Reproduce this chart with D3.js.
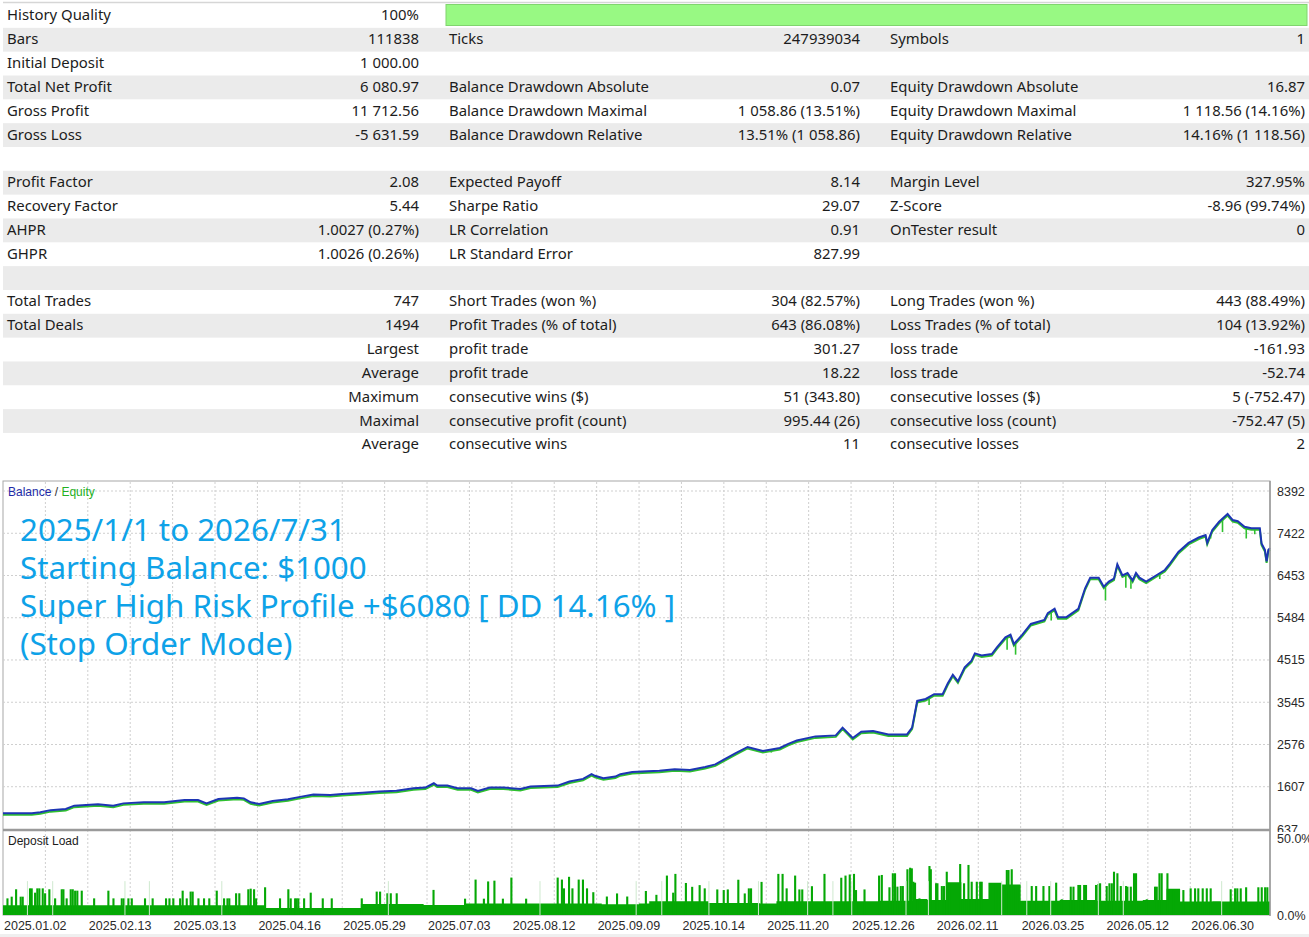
<!DOCTYPE html>
<html>
<head>
<meta charset="utf-8">
<script src="https://cdn.jsdelivr.net/npm/d3@7"></script>
<style>
  body { margin: 0; background: #ffffff; }
  svg { display: block; }
</style>
</head>
<body>
<div id="chart"></div>
<script>
// Page size
const width = 1309, height = 937;

// ---------- report table ----------
const col1Labels = ["History Quality", "Bars", "Initial Deposit", "Total Net Profit", "Gross Profit", "Gross Loss", "",
  "Profit Factor", "Recovery Factor", "AHPR", "GHPR", "",
  "Total Trades", "Total Deals", "", "", "", "", ""];
const col1Values = ["100%", "111838", "1 000.00", "6 080.97", "11 712.56", "-5 631.59", "",
  "2.08", "5.44", "1.0027 (0.27%)", "1.0026 (0.26%)", "",
  "747", "1494", "Largest", "Average", "Maximum", "Maximal", "Average"];
const col2Labels = ["", "Ticks", "", "Balance Drawdown Absolute", "Balance Drawdown Maximal", "Balance Drawdown Relative", "",
  "Expected Payoff", "Sharpe Ratio", "LR Correlation", "LR Standard Error", "",
  "Short Trades (won %)", "Profit Trades (% of total)", "profit trade", "profit trade",
  "consecutive wins ($)", "consecutive profit (count)", "consecutive wins"];
const col2Values = ["", "247939034", "", "0.07", "1 058.86 (13.51%)", "13.51% (1 058.86)", "",
  "8.14", "29.07", "0.91", "827.99", "",
  "304 (82.57%)", "643 (86.08%)", "301.27", "18.22", "51 (343.80)", "995.44 (26)", "11"];
const col3Labels = ["", "Symbols", "", "Equity Drawdown Absolute", "Equity Drawdown Maximal", "Equity Drawdown Relative", "",
  "Margin Level", "Z-Score", "OnTester result", "", "",
  "Long Trades (won %)", "Loss Trades (% of total)", "loss trade", "loss trade",
  "consecutive losses ($)", "consecutive loss (count)", "consecutive losses"];
const col3Values = ["", "1", "", "16.87", "1 118.56 (14.16%)", "14.16% (1 118.56)", "",
  "327.95%", "-8.96 (99.74%)", "0", "", "",
  "443 (88.49%)", "104 (13.92%)", "-161.93", "-52.74", "5 (-752.47)", "-752.47 (5)", "2"];
const historyQuality = 100;

// ---------- balance / equity graph (x = trade number) ----------
const totalTrades = 747;
const balance = [
  [0, 1000], [17, 1000], [22, 1020], [28, 1070], [37, 1095], [42, 1172], [49, 1190], [56, 1205],
  [65, 1172], [71, 1225], [83, 1250], [95, 1250], [107, 1300], [115, 1300], [120, 1225], [127, 1325],
  [138, 1355], [142, 1340], [146, 1250], [151, 1210], [159, 1280], [168, 1318], [176, 1380], [183, 1430],
  [193, 1415], [200, 1440], [212, 1470], [222, 1495], [232, 1517], [242, 1572], [249, 1587], [254, 1686],
  [256, 1633], [262, 1633], [268, 1572], [276, 1572], [280, 1510], [287, 1587], [295, 1587], [305, 1557],
  [311, 1610], [327, 1633], [334, 1725], [342, 1786], [347, 1895], [349, 1858], [354, 1802], [361, 1840],
  [364, 1895], [371, 1943], [380, 1960], [387, 1975], [396, 2010], [405, 1990], [414, 2060], [420, 2120],
  [425, 2230], [432, 2380], [439, 2519], [448, 2428], [458, 2497], [463, 2590], [468, 2668], [479, 2762], [491, 2785], [495, 2962],
  [501, 2726], [506, 2870], [513, 2885], [522, 2808], [533, 2808], [536, 2962], [539, 3575], [544, 3620],
  [549, 3730], [554, 3730], [557, 3976], [560, 4176], [563, 4022], [567, 4345], [571, 4499], [573, 4666],
  [577, 4620], [583, 4650], [586, 4804], [591, 5036], [594, 5098], [596, 4882], [601, 5098], [606, 5341],
  [614, 5433], [616, 5589], [620, 5690], [622, 5497], [627, 5497], [634, 5690], [638, 6160], [641, 6403],
  [646, 6403], [649, 6197], [652, 6312], [655, 6380], [657, 6710], [660, 6456], [663, 6510], [666, 6341],
  [668, 6510], [670, 6403], [674, 6312], [681, 6482], [685, 6580], [688, 6726], [693, 6995], [699, 7201],
  [705, 7325], [709, 7383], [710, 7201], [713, 7497], [717, 7685], [722, 7864], [725, 7726], [728, 7700],
  [732, 7571], [736, 7540], [741, 7540], [742, 7188], [744, 7040], [745, 6779], [746, 7040], [747, 7081]
];
// equity lows (floating drawdowns) [trade, equity]
const equityDips = [
  [149, 1195], [263, 1600], [453, 2390], [546, 3483], [592, 4750], [597, 4637], [618, 5420],
  [650, 5880], [662, 6174], [665, 6150], [682, 6373], [712, 7302], [719, 7450], [733, 7302], [738, 7400]
];
const yTicks = [637, 1607, 2576, 3545, 4515, 5484, 6453, 7422, 8392];
const dateLabels = ["2025.01.02", "2025.02.13", "2025.03.13", "2025.04.16", "2025.05.29", "2025.07.03",
  "2025.08.12", "2025.09.09", "2025.10.14", "2025.11.20", "2025.12.26", "2026.02.11", "2026.03.25",
  "2026.05.12", "2026.06.30"];

// ---------- deposit load (%) ----------
const loadBase = [
  [0, 6.4], [155, 4.6], [211, 7.1], [248, 6.5], [272, 7.5], [353, 7.0], [375, 7.5], [381, 8.9],
  [416, 7.8], [446, 7.4], [456, 8.9], [517, 9.3], [537, 10.4], [545, 9.7], [556, 21.3], [565, 10.4],
  [581, 21.0], [589, 19.8], [600, 9.3], [623, 9.7], [645, 9.3], [672, 9.7], [686, 17.0], [694, 8.7],
  [713, 9.0], [718, 8.7], [747, 8.7]
];
const loadSpikes = [
  [2.6, 10.8], [5.1, 11.9], [7.7, 16.7], [10.4, 11.9], [11.6, 11.9], [15.9, 17.3], [16.9, 17.3], [18.9, 14.5],
  [20.2, 17.3], [21.4, 17.3], [23.4, 17.3], [24.8, 14.1], [27.3, 16.7], [30.7, 10.8], [34.6, 16.7], [35.6, 16.7],
  [37.5, 10.8], [39.9, 16.7], [41.1, 16.7], [42.5, 15.8], [43.8, 15.8], [46.4, 15.8], [53.7, 10.8], [62.1, 15.8],
  [65.1, 10.8], [70.0, 10.8], [71.3, 10.8], [73.9, 10.8], [75.9, 10.8], [83.7, 10.8], [88.2, 10.8], [96.1, 10.8],
  [98.1, 10.8], [100.4, 10.8], [104.4, 10.8], [105.9, 15.8], [108.3, 10.8], [110.6, 15.2], [111.8, 15.2],
  [115.2, 10.8], [118.5, 10.8], [121.6, 10.8], [126.0, 15.8], [130.3, 10.8], [132.3, 10.8], [133.4, 10.8],
  [137.4, 14.1], [139.3, 14.1], [144.6, 16.7], [146.0, 17.1], [148.0, 16.7], [149.2, 10.8], [154.5, 18.0],
  [163.3, 10.8], [168.2, 16.7], [169.6, 10.8], [172.2, 10.8], [173.1, 10.8], [174.1, 10.8], [177.5, 10.8],
  [181.4, 14.5], [188.5, 10.8], [193.8, 10.8], [211.5, 10.8], [220.3, 15.2], [222.3, 15.2], [226.6, 14.1],
  [228.6, 14.1], [232.1, 14.1], [253.8, 16.3], [272.4, 10.6], [278.6, 23.0], [283.5, 10.6], [286.0, 21.8],
  [289.7, 22.3], [294.7, 10.6], [299.7, 24.3], [308.4, 10.6], [327.0, 24.3], [329.5, 23.0], [330.7, 17.3],
  [333.7, 24.8], [335.7, 17.3], [339.4, 23.0], [341.9, 23.0], [344.3, 17.3], [348.0, 14.8], [356.0, 12.0],
  [362.0, 14.0], [368.0, 12.0], [379.0, 15.6], [385.2, 13.1], [391.4, 25.6], [395.1, 14.5], [396.4, 26.7],
  [402.6, 20.8], [406.3, 18.3], [410.7, 19.4], [413.7, 17.3], [421.1, 16.6], [424.9, 16.2], [427.3, 16.6],
  [433.5, 22.9], [437.3, 14.0], [439.7, 17.3], [441.0, 17.3], [447.2, 21.5], [457.1, 26.7], [459.6, 26.7],
  [462.0, 17.3], [467.0, 25.6], [469.5, 16.6], [471.2, 16.6], [476.9, 18.7], [484.3, 26.7], [494.2, 24.2],
  [496.7, 25.6], [499.2, 26.3], [501.7, 26.7], [502.9, 16.2], [507.9, 16.6], [516.5, 25.6],
  [518.1, 26.0], [522.6, 18.0], [524.6, 27.1], [525.9, 27.1], [527.3, 18.4], [529.3, 18.8], [530.5, 18.8],
  [533.2, 29.7], [534.8, 30.7], [535.8, 30.3], [536.7, 21.6], [537.7, 21.0], [540.3, 10.8], [546.2, 31.8],
  [547.0, 29.7], [550.1, 20.6], [550.9, 20.6], [553.5, 18.8], [554.8, 18.8], [556.4, 28.1], [558.0, 20.6],
  [564.3, 33.1], [566.6, 20.6], [569.2, 32.5], [571.1, 21.6], [574.1, 21.6], [576.1, 21.6], [577.0, 21.6],
  [584.9, 20.6], [586.9, 20.6], [591.8, 29.2], [592.8, 29.2], [594.7, 29.7], [595.7, 18.4], [598.1, 18.4],
  [606.5, 18.8], [609.1, 18.8], [613.4, 18.8], [616.9, 18.8], [620.9, 21.0], [624.2, 10.2], [629.5, 18.4],
  [631.1, 18.4], [634.0, 19.5], [635.0, 19.5], [637.4, 19.5], [638.5, 19.5], [644.4, 19.5], [645.8, 20.1],
  [646.8, 20.6], [650.7, 18.8], [652.3, 20.6], [653.7, 20.6], [655.0, 28.1], [657.0, 27.1], [659.0, 18.8],
  [662.1, 18.8], [662.9, 18.4], [664.9, 18.4], [666.8, 27.1], [668.0, 27.1], [674.3, 10.2], [679.2, 18.4],
  [680.2, 18.4], [681.8, 27.1], [683.1, 27.1], [686.5, 27.1], [690.0, 16.2], [695.9, 16.2], [700.2, 17.3],
  [702.8, 17.3], [704.7, 17.3], [707.3, 17.3], [709.7, 17.3], [712.0, 17.3], [723.8, 16.7], [726.4, 17.3],
  [727.7, 17.3], [729.7, 17.3], [732.9, 18.0], [740.1, 18.0], [742.1, 18.0], [744.1, 18.0], [745.4, 18.0]
];
// moments with no open position (white gaps)
const zeroLoad = [14.4, 29.3, 71.9, 86.3, 129, 227.2, 316.6, 373.3, 388.4, 416.2, 445.4, 474.4, 489.3,
  500.4, 532.4, 545.6, 588.8, 603.6, 617.7, 645.8, 660.5, 718.5];

// ---------- overlay caption ----------
const captionLines = ["2025/1/1 to 2026/7/31", "Starting Balance: $1000",
  "Super High Risk Profile +$6080 [ DD 14.16% ]", "(Stop Order Mode)"];

// #############################
const svg = d3.select("#chart").append("svg")
  .attr("width", width)
  .attr("height", height);

const tableFont = "'Noto Sans', 'Open Sans', sans-serif";
const axisFont = "'Liberation Sans', Arial, sans-serif";

// table
const rowH = 23.83, tableTop = 4;
const rowIdx = d3.range(col1Labels.length);
const rowY = i => tableTop + i * rowH;

svg.append("line")
  .attr("x1", 3).attr("x2", width).attr("y1", 2.5).attr("y2", 2.5)
  .attr("stroke", "#d6d6d6").attr("stroke-width", 1.5);

svg.selectAll("rect.rowbg").data(rowIdx.filter(i => i % 2 === 1)).enter()
  .append("rect").attr("class", "rowbg")
  .attr("x", 3).attr("y", i => rowY(i))
  .attr("width", width - 3).attr("height", rowH)
  .attr("fill", "#ebebeb");

const qScale = d3.scaleLinear().domain([0, 100]).range([0, 861]);
svg.append("rect")
  .attr("x", 446).attr("y", 4.5)
  .attr("width", qScale(historyQuality)).attr("height", 21)
  .attr("fill", "#98f983").attr("stroke", "#80d46e").attr("stroke-width", 1);

function tableCol(arr, x, anchor) {
  svg.append("g").selectAll("text").data(arr).enter()
    .append("text")
    .attr("x", x)
    .attr("y", (d, i) => rowY(i) + rowH / 2 + 4.5)
    .attr("text-anchor", anchor)
    .attr("font-family", tableFont)
    .attr("font-size", 14.9)
    .attr("fill", "#1c1c1c")
    .text(d => d);
}
tableCol(col1Labels, 7, "start");
tableCol(col1Values, 419, "end");
tableCol(col2Labels, 449, "start");
tableCol(col2Values, 860, "end");
tableCol(col3Labels, 890, "start");
tableCol(col3Values, 1305, "end");

// chart scales
const x = d3.scaleLinear().domain([0, totalTrades]).range([3, 1270]);
const y = d3.scaleLinear().domain([637, 8392]).range([829, 491]);
const yLoad = d3.scaleLinear().domain([0, 50]).range([915, 838]);

// panels
svg.append("rect").attr("x", 3).attr("y", 481).attr("width", 1267).attr("height", 434)
  .attr("fill", "#ffffff").attr("stroke", "#a8a8a8").attr("stroke-width", 1);

// grid
const gridK = d3.range(25, totalTrades, 25);
svg.append("g").selectAll("line").data(gridK).enter().append("line")
  .attr("x1", d => x(d)).attr("x2", d => x(d))
  .attr("y1", 482).attr("y2", 915)
  .attr("stroke", "#cfcfcf").attr("stroke-dasharray", "2,2");
svg.append("g").selectAll("line").data(yTicks.slice(1)).enter().append("line")
  .attr("x1", 3).attr("x2", 1270)
  .attr("y1", d => y(d)).attr("y2", d => y(d))
  .attr("stroke", "#cfcfcf").attr("stroke-dasharray", "2,2");

// deposit load
const baseArea = d3.area()
  .x(d => x(d[0]))
  .y0(yLoad(0))
  .y1(d => yLoad(d[1]))
  .curve(d3.curveStepAfter);
svg.append("path").datum(loadBase)
  .attr("d", baseArea)
  .attr("fill", "#05a805");
svg.append("g").selectAll("rect").data(loadSpikes).enter().append("rect")
  .attr("x", d => x(d[0]) - 1)
  .attr("width", 2.1)
  .attr("y", d => yLoad(d[1]))
  .attr("height", d => yLoad(0) - yLoad(d[1]))
  .attr("fill", "#05a805");
svg.append("g").selectAll("rect").data(zeroLoad).enter().append("rect")
  .attr("x", d => x(d) - 0.5)
  .attr("width", 1)
  .attr("y", yLoad(22))
  .attr("height", yLoad(0) - yLoad(22))
  .attr("fill", "#cfe9cf");

// balance & equity
const line = d3.line()
  .x(d => x(d[0]))
  .y(d => y(d[1]));
const balAt = t => {
  const i = d3.bisector(d => d[0]).left(balance, t);
  if (i <= 0) return balance[0][1];
  const a = balance[i - 1], b = balance[Math.min(i, balance.length - 1)];
  return b[0] === a[0] ? b[1] : a[1] + (b[1] - a[1]) * (t - a[0]) / (b[0] - a[0]);
};
svg.append("path").datum(balance)
  .attr("d", line)
  .attr("transform", "translate(0,1.5)")
  .attr("fill", "none").attr("stroke", "#2fc02f").attr("stroke-width", 2);
svg.append("g").selectAll("line").data(equityDips).enter().append("line")
  .attr("x1", d => x(d[0])).attr("x2", d => x(d[0]))
  .attr("y1", d => y(balAt(d[0]))).attr("y2", d => y(d[1]))
  .attr("stroke", "#2fc02f").attr("stroke-width", 1.6);
svg.append("path").datum(balance)
  .attr("d", line)
  .attr("fill", "none").attr("stroke", "#1d35b4").attr("stroke-width", 2);

// separator and right axis
svg.append("line").attr("x1", 3).attr("x2", 1270).attr("y1", 830).attr("y2", 830)
  .attr("stroke", "#9a9a9a").attr("stroke-width", 2.5);
svg.append("line").attr("x1", 1270).attr("x2", 1270).attr("y1", 481).attr("y2", 916)
  .attr("stroke", "#9a9a9a").attr("stroke-width", 1.5);

// y axis labels (clipped at the separator)
svg.append("clipPath").attr("id", "topclip")
  .append("rect").attr("x", 1271).attr("y", 470).attr("width", 40).attr("height", 362);
svg.append("g").attr("clip-path", "url(#topclip)")
  .selectAll("text").data(yTicks).enter().append("text")
  .attr("x", 1277).attr("y", d => y(d) + 4.5)
  .attr("font-family", axisFont).attr("font-size", 12.5).attr("fill", "#2a2a2a")
  .text(d => d);
svg.append("g").selectAll("text").data([50, 0]).enter().append("text")
  .attr("x", 1277).attr("y", d => yLoad(d) + 4.5)
  .attr("font-family", axisFont).attr("font-size", 12.5).attr("fill", "#2a2a2a")
  .text(d => d.toFixed(1) + "%");

// date labels
svg.append("g").selectAll("text").data(dateLabels).enter().append("text")
  .attr("x", (d, i) => x(i * 50) + 1)
  .attr("y", 930)
  .attr("font-family", axisFont).attr("font-size", 12.5).attr("fill", "#2a2a2a")
  .text(d => d);

// legends
const leg = svg.append("text").attr("x", 8).attr("y", 496)
  .attr("font-family", axisFont).attr("font-size", 12);
leg.append("tspan").attr("fill", "#1d2aa6").text("Balance");
leg.append("tspan").attr("fill", "#333").text(" / ");
leg.append("tspan").attr("fill", "#22b022").text("Equity");
svg.append("text").attr("x", 8).attr("y", 845)
  .attr("font-family", axisFont).attr("font-size", 12).attr("fill", "#1c1c1c")
  .text("Deposit Load");

// caption
svg.append("g").selectAll("text").data(captionLines).enter().append("text")
  .attr("x", 20)
  .attr("y", (d, i) => 541 + i * 38)
  .attr("font-family", tableFont).attr("font-size", 31.3)
  .attr("fill", "#0ea2e8")
  .text(d => d);

// bottom strip
svg.append("rect").attr("x", 0).attr("y", 934).attr("width", width).attr("height", 3)
  .attr("fill", "#efefef");
</script>
</body>
</html>
